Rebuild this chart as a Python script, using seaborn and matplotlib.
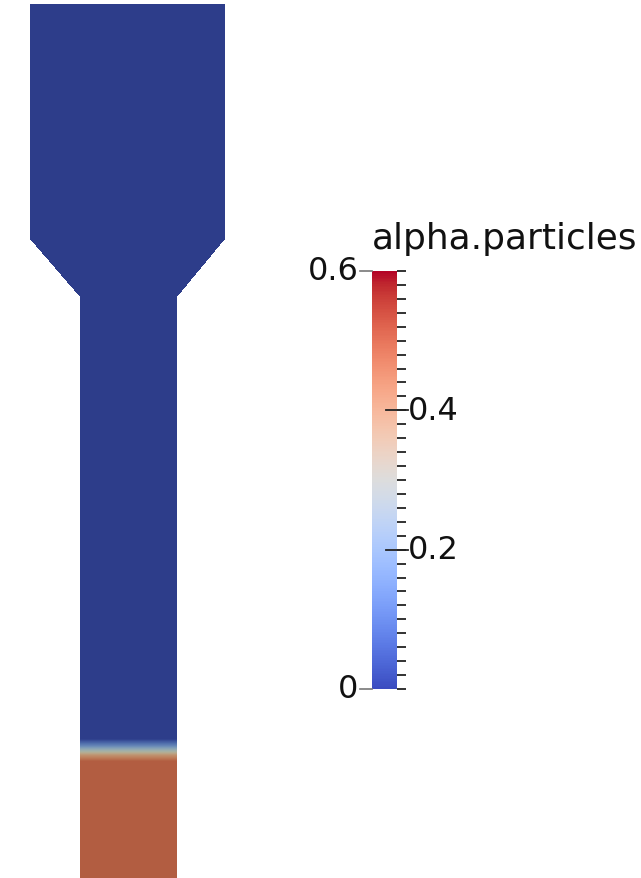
import numpy as np
import matplotlib
matplotlib.use('Agg')
import matplotlib.pyplot as plt
from matplotlib.colors import ListedColormap, Normalize
import matplotlib.cm as cm
import seaborn as sns

# geometry of the column (units = px of the render, z measured up from image bottom)
outline_z = [0, 581, 639, 874]
outline_left = [80, 80, 30, 30]
outline_right = [177, 177, 225, 225]

# alpha.particles profile along height (packed bed at bottom)
profile_z = [0, 117, 123, 127, 132, 139, 874]
profile_alpha = [0.50, 0.50, 0.40, 0.28, 0.14, 0.0, 0.0]

cbar_ticks = [0.0, 0.2, 0.4, 0.6]
cbar_labels = ['0', '0.2', '0.4', '0.6']
field_name = 'alpha.particles'
vmin, vmax = 0.0, 0.6

W, H = 641, 879
fig = plt.figure(figsize=(W / 100, H / 100), dpi=100)

# --- field: heatmap over the domain with geometry mask
x0, x1 = min(outline_left), max(outline_right)
ztop = max(outline_z)
xc = np.arange(x0, x1) + 0.5
zc = np.arange(ztop, 0, -1) - 0.5          # top row first
XX, ZZ = np.meshgrid(xc, zc)
left = np.interp(ZZ, outline_z, outline_left)
right = np.interp(ZZ, outline_z, outline_right)
outside = (XX < left) | (XX > right)
field = np.interp(ZZ, profile_z, profile_alpha)

base = plt.get_cmap('coolwarm')(np.linspace(0, 1, 256))
shade = np.array([0.77, 0.80, 0.72, 1.0])
field_cmap = ListedColormap(np.clip(base * shade, 0, 1))

ax = fig.add_axes([x0 / W, 0, (x1 - x0) / W, ztop / H])
sns.heatmap(field, mask=outside, cmap=field_cmap, vmin=vmin, vmax=vmax,
            cbar=False, xticklabels=False, yticklabels=False, ax=ax,
            rasterized=True)
ax.set_axis_off()

# --- scalar bar
cax = fig.add_axes([372 / W, (H - 690) / H, 25 / W, 418 / H])
sm = cm.ScalarMappable(norm=Normalize(vmin, vmax), cmap='coolwarm')
cb = fig.colorbar(sm, cax=cax)
cb.outline.set_visible(False)
cax.yaxis.set_ticks_position('right')
cax.set_yticks(np.arange(0, vmax + 1e-9, 0.02), minor=True)
cax.set_yticks([])
cax.tick_params(which='minor', length=6.5, width=1.3, color='#222222', direction='out')

fs = 23
ytr = cax.get_yaxis_transform()
for t, lab in zip(cbar_ticks, cbar_labels):
    if t in (vmin, vmax):
        cax.plot([-0.5, -0.02], [t, t], transform=ytr,
                 color='#777777', lw=1.2, clip_on=False)
        cax.text(-0.55, t, lab, transform=ytr,
                 ha='right', va='center', fontsize=fs, color='#111111')
    else:
        cax.plot([0.55, 1.45], [t, t], transform=ytr,
                 color='#222222', lw=1.3, clip_on=False)
        cax.text(1.45, t, lab, transform=ytr,
                 ha='left', va='center', fontsize=fs, color='#111111')

fig.text(372 / W, 1 - 249 / H, field_name, ha='left', va='baseline',
         fontsize=25.8, color='#111111')

fig.savefig('out.png', dpi=100, facecolor='white')
